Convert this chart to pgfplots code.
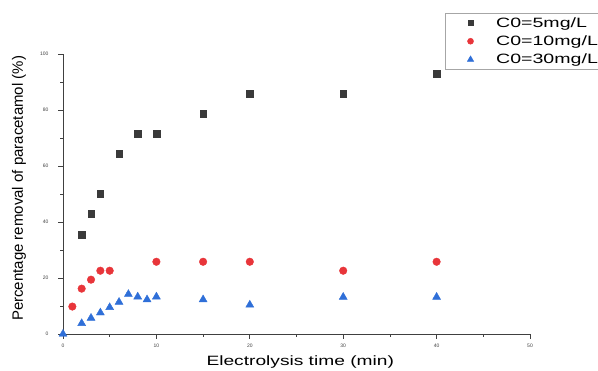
\documentclass[border=0pt]{standalone}
\usepackage{pgfplots}
\pgfplotsset{compat=1.18}
\usepackage{fontspec}
\setmainfont{Liberation Sans}
\newfontfamily\widefont[FakeStretch=1.42]{Liberation Sans}
\newfontfamily\legfont[FakeStretch=1.45]{Liberation Sans}
\definecolor{cblack}{HTML}{3A3A3A}
\definecolor{cred}{HTML}{E8353A}
\definecolor{cblue}{HTML}{2F6FD8}
\begin{document}
\begin{tikzpicture}
\begin{axis}[
  scale only axis, width=467pt, height=280pt,
  xmin=0, xmax=50, ymin=0, ymax=100,
  axis x line*=bottom, axis y line*=left,
  axis line style={black!75, line width=0.8pt},
  xtick={0,10,20,30,40,50}, ytick={0,20,40,60,80,100},
  minor x tick num=1, minor y tick num=1,
  tick align=outside, major tick length=5pt, minor tick length=3pt,
  tick style={black!75, line width=0.8pt},
  ticklabel style={font=\fontsize{5}{6}\selectfont, text=black!75},
  yticklabel style={xshift=-6pt},
  xticklabel style={yshift=-1pt},
  /pgf/number format/assume math mode=true,
  xlabel={Electrolysis time (min)},
  ylabel={Percentage removal of paracetamol (\%)},
  xlabel style={font=\widefont\fontsize{13.5}{15}\selectfont, at={(axis description cs:0.508,-0.114)}, anchor=base},
  ylabel style={font=\fontsize{15}{17}\selectfont, at={(axis description cs:-0.094,0.52)}, anchor=center},
  legend style={at={(rel axis cs:0.818,1.146)}, anchor=north west,
    font=\legfont\fontsize{13.5}{14}\selectfont, draw=black!35, inner sep=2pt,
    row sep=3pt, cells={anchor=west}},
  legend image code/.code={\path[draw=none,fill=none] (0cm,0cm) -- (1.65cm,0cm); \draw[#1, scale=0.8] plot[only marks] coordinates {(1.025cm,0cm)};},
  legend cell align=left,
  clip=false,
]
\addplot[only marks, mark=square*, mark size=3.3pt, color=cblack] coordinates {
(2,35.4) (3,43) (4,50) (6,64.3) (8,71.5) (10,71.5) (15,78.6) (20,85.8) (30,85.8) (40,93)};
\addlegendentry{C0=5mg/L}
\addplot[only marks, mark=*, mark size=3.8pt, color=cred] coordinates {
(1,9.8) (2,16.2) (3,19.4) (4,22.6) (5,22.6) (10,25.8) (15,25.8) (20,25.8) (30,22.6) (40,25.8)};
\addlegendentry{C0=10mg/L}
\addplot[only marks, mark=triangle*, mark size=4.6pt, color=cblue] coordinates {
(0,0) (2,3.8) (3,5.7) (4,7.6) (5,9.5) (6,11.4) (7,14.2) (8,13.3) (9,12.3) (10,13.3) (15,12.3) (20,10.4) (30,13.2) (40,13.2)};
\addlegendentry{C0=30mg/L}
\end{axis}
\pgfresetboundingbox
\path[use as bounding box] ([shift={(-63pt,-37pt)}]current axis.south west) rectangle ([shift={(68pt,54pt)}]current axis.north east);
\end{tikzpicture}
\end{document}
